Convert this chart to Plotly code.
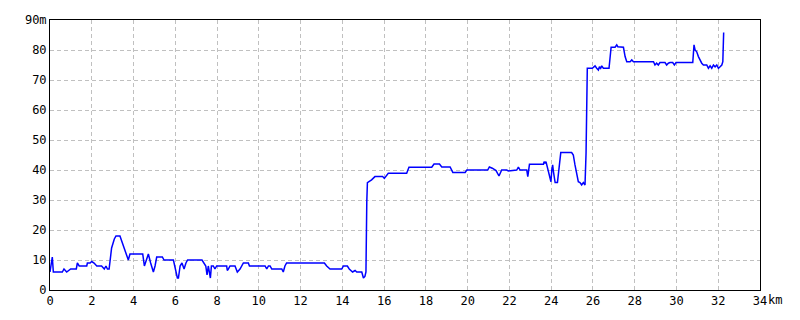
import plotly.graph_objects as go

dist_km = (
    [0, 0.11, 0.16, 0.59, 0.67, 0.80, 0.99, 1.26, 1.31, 1.40]
    + [1.76, 1.79, 1.92, 2.0, 2.11, 2.24, 2.47, 2.60, 2.68, 2.75]
    + [2.83, 2.91, 2.95, 3.08, 3.16, 3.35, 3.40, 3.61, 3.75, 3.83]
    + [4.44, 4.52, 4.71, 4.82, 4.95, 5.03, 5.11, 5.38, 5.46, 5.91]
    + [6.03, 6.10, 6.15, 6.23, 6.32, 6.42, 6.51, 6.59, 7.28, 7.38]
    + [7.46, 7.52, 7.58, 7.63, 7.68, 7.73, 7.82, 7.90, 7.98, 8.46]
    + [8.49, 8.54, 8.62, 8.78, 8.86, 8.97, 9.10, 9.26, 9.50, 9.55]
    + [10.30, 10.38, 10.46, 10.54, 10.62, 11.10, 11.17, 11.25, 11.33, 13.14]
    + [13.25, 13.41, 13.97, 14.05, 14.24, 14.33, 14.49, 14.61, 14.69, 14.93]
    + [15.01, 15.08, 15.13, 15.17, 15.20, 15.40, 15.56, 15.93, 16.01, 16.20]
    + [17.08, 17.19, 18.28, 18.39, 18.65, 18.76, 19.16, 19.29, 19.88, 19.96]
    + [20.04, 20.96, 21.04, 21.18, 21.36, 21.50, 21.63, 21.87, 21.95, 22.19]
    + [22.35, 22.43, 22.51, 22.83, 22.88, 22.96, 23.63, 23.66, 23.71, 23.75]
    + [23.82, 23.87, 23.95, 23.99, 24.03, 24.07, 24.11, 24.14, 24.19, 24.30]
    + [24.34, 24.39, 24.46, 24.98, 25.06, 25.14, 25.22, 25.30, 25.38, 25.46]
    + [25.54, 25.62, 25.67, 25.70, 25.73, 25.97, 26.10, 26.18, 26.26, 26.31]
    + [26.37, 26.42, 26.50, 26.77, 26.82, 26.87, 27.06, 27.14, 27.19, 27.46]
    + [27.54, 27.62, 27.78, 27.86, 27.94, 28.90, 28.97, 29.05, 29.13, 29.21]
    + [29.45, 29.53, 29.61, 29.69, 29.82, 29.90, 29.98, 30.78, 30.84, 30.89]
    + [30.97, 31.05, 31.21, 31.29, 31.45, 31.53, 31.61, 31.69, 31.77, 31.85]
    + [31.93, 32.01, 32.09, 32.17, 32.22, 32.26]
)

elev_m = (
    [6, 11, 6, 6, 7, 6, 7, 7, 9, 8]
    + [8, 9, 9, 9.5, 9, 8, 8, 7, 8, 7]
    + [7, 13, 14, 17, 18, 18, 17, 13, 10, 12]
    + [12, 8, 12, 9, 6, 8, 11, 11, 10, 10]
    + [6, 4, 4, 8, 9, 7, 9, 10, 10, 9]
    + [8, 5, 8, 6, 4, 8, 8, 7, 8, 8]
    + [6.5, 7, 8, 8, 8, 6, 7, 9, 9, 8]
    + [8, 7, 8, 8, 7, 7, 6, 8, 9, 9]
    + [8, 7, 7, 8, 8, 7, 6, 6.5, 6, 6]
    + [4, 4.5, 6, 29.4, 35.8, 36.7, 37.8, 37.8, 37.2, 38.9]
    + [38.9, 40.9, 40.9, 42, 42, 41, 41, 39.2, 39.2, 40]
    + [40, 40, 41, 40.6, 39.8, 38, 40, 40, 39.7, 40]
    + [40, 41, 40, 40, 37.8, 41.9, 41.9, 42.8, 42.2, 42.8]
    + [40.6, 38.9, 36.7, 36.1, 40, 41.7, 39.4, 37.8, 35.8, 35.8]
    + [38.9, 42.2, 45.8, 45.8, 45, 41.7, 38.9, 36.1, 35.8, 35]
    + [35.8, 35, 45.6, 64.4, 73.9, 73.9, 74.7, 73.9, 73.3, 74.4]
    + [73.9, 74.7, 73.9, 73.9, 77.2, 80.9, 80.9, 81.7, 81.1, 80.9]
    + [77.8, 76.1, 76.1, 76.7, 76.1, 76.1, 75, 75.6, 75, 75.8]
    + [75.8, 75, 75.6, 75.8, 75.8, 75, 75.8, 75.8, 81.7, 80]
    + [79.4, 77.8, 75.6, 75, 75, 73.9, 74.7, 73.9, 75, 74.4]
    + [75, 73.9, 74.4, 75, 76.1, 85.8]
)

x_ticks = list(range(0, 35, 2))
x_labels = [str(v) for v in x_ticks]
y_ticks = list(range(0, 91, 10))
y_labels = [str(v) for v in y_ticks[:-1]] + ["90m"]

fig = go.Figure()
fig.add_trace(go.Scatter(x=dist_km, y=elev_m, mode="lines",
                         line=dict(color="#0000ff", width=1.5), hoverinfo="skip"))

tick_font = dict(family="DejaVu Sans Mono", size=12, color="#000000")
axis_common = dict(showgrid=True, gridcolor="#c0c0c0", griddash="4px,3px", gridwidth=1,
                   showline=True, linecolor="#000000", linewidth=1, mirror=True,
                   zeroline=False, ticks="", tickfont=tick_font)

fig.update_layout(
    width=800, height=320,
    margin=dict(l=50, r=40, t=20, b=30),
    paper_bgcolor="#ffffff", plot_bgcolor="#ffffff",
    showlegend=False,
    xaxis=dict(range=[0, 34], tickvals=x_ticks, ticktext=x_labels, **axis_common),
    yaxis=dict(range=[0, 90], tickvals=y_ticks, ticktext=y_labels, **axis_common),
)

fig.add_annotation(x=34, xref="x", y=0, yref="paper", text="km", showarrow=False,
                   xanchor="left", yanchor="top", xshift=7, yshift=-2, borderpad=0,
                   font=tick_font)

fig.write_html("out.html")
